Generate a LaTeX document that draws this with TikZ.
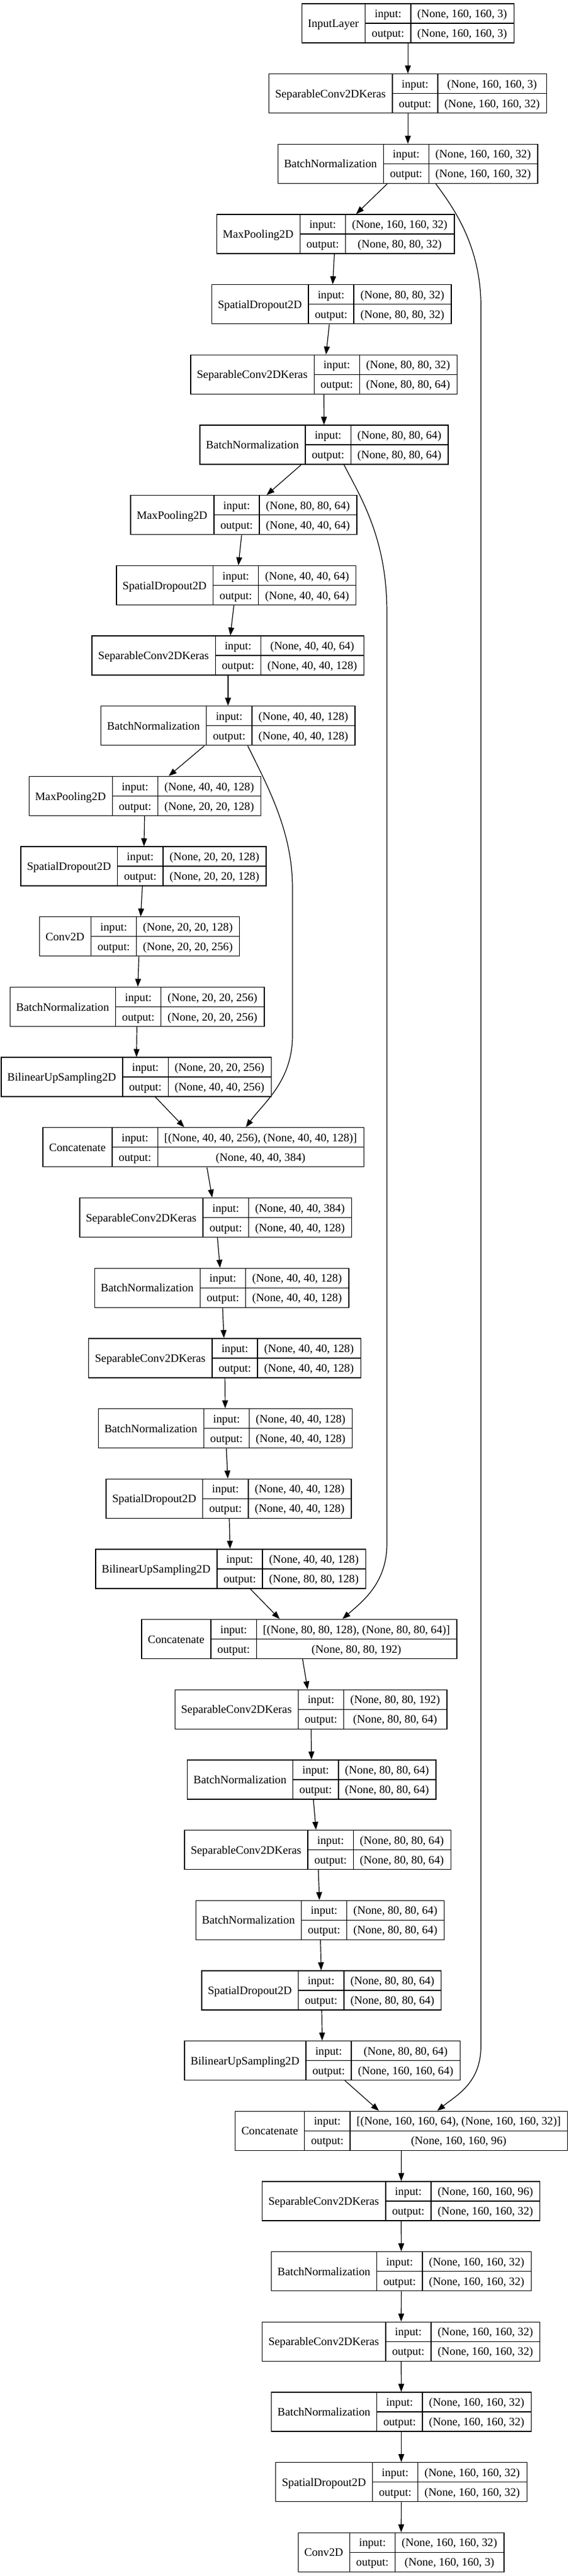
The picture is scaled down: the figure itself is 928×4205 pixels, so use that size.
\documentclass[tikz,border=0pt]{standalone}
\usepackage{fontspec}
\setmainfont{Liberation Serif}
\usetikzlibrary{calc,arrows.meta}
\font\lfprim="Liberation Serif" at 18.67pt
\newcommand\lfont{\lfprim}
\newlength\wn \newlength\wl \newlength\wv \newlength\wtmp \newlength\wtot
\tikzset{
  layerbox/.style={draw, line width=1.33pt, inner sep=0pt, minimum height=64pt},
  divline/.style={line width=1.33pt},
  celltext/.style={inner sep=0pt, font=\lfont, text height=16.5pt, text depth=3.3pt},
  edge/.style={line width=1.2pt, -{Triangle[length=13pt,width=9.5pt]}},
}
% #1 node name, #2 centre x, #3 index (row), #4 layer name, #5 input, #6 output
\newcommand\layer[6]{%
  \settowidth\wn{\lfont #4}\addtolength\wn{21.33pt}%
  \settowidth\wl{\lfont output:}\addtolength\wl{21.33pt}%
  \settowidth\wv{\lfont #5}\settowidth\wtmp{\lfont #6}%
  \ifdim\wtmp>\wv \setlength\wv{\wtmp}\fi
  \addtolength\wv{21.33pt}%
  \setlength\wtot{\wn}\addtolength\wtot{\wl}\addtolength\wtot{\wv}%
  \pgfmathsetmacro\cy{38+114.675*#3}%
  \node[layerbox, minimum width=\wtot] (#1) at (#2,\cy) {};
  \draw[divline] ($(#1.north west)+(\wn,-0.665pt)$) -- ($(#1.south west)+(\wn,0.665pt)$);
  \draw[divline] ($(#1.north west)+(\wn+\wl,-0.665pt)$) -- ($(#1.south west)+(\wn+\wl,0.665pt)$);
  \draw[divline] ($(#1.west)+(\wn,0pt)$) -- ($(#1.east)+(-0.665pt,0pt)$);
  \node[celltext] (#1n) at ($(#1.west)+(0.5*\wn,0pt)$) {#4};
  \node[celltext] (#1i) at ($(#1.west)+(\wn+0.5*\wl,16pt)$) {input:};
  \node[celltext] (#1o) at ($(#1.west)+(\wn+0.5*\wl,-16pt)$) {output:};
  \node[celltext] (#1iv) at ($(#1.west)+(\wn+\wl+0.5*\wv,16pt)$) {#5};
  \node[celltext] (#1ov) at ($(#1.west)+(\wn+\wl+0.5*\wv,-16pt)$) {#6};
}
\begin{document}
\begin{tikzpicture}[x=1pt,y=-1pt]
\fill[white] (0,0) rectangle (928,4205);
\useasboundingbox (0,0) rectangle (928,4205);
\layer{n0}{665.2}{0}{InputLayer}{(None, 160, 160, 3)}{(None, 160, 160, 3)}
\layer{n1}{665.2}{1}{SeparableConv2DKeras}{(None, 160, 160, 3)}{(None, 160, 160, 32)}
\layer{n2}{665.2}{2}{BatchNormalization}{(None, 160, 160, 32)}{(None, 160, 160, 32)}
\layer{n3}{547.2}{3}{MaxPooling2D}{(None, 160, 160, 32)}{(None, 80, 80, 32)}
\layer{n4}{540.7}{4}{SpatialDropout2D}{(None, 80, 80, 32)}{(None, 80, 80, 32)}
\layer{n5}{528.2}{5}{SeparableConv2DKeras}{(None, 80, 80, 32)}{(None, 80, 80, 64)}
\layer{n6}{528.5}{6}{BatchNormalization}{(None, 80, 80, 64)}{(None, 80, 80, 64)}
\layer{n7}{397.5}{7}{MaxPooling2D}{(None, 80, 80, 64)}{(None, 40, 40, 64)}
\layer{n8}{385.3}{8}{SpatialDropout2D}{(None, 40, 40, 64)}{(None, 40, 40, 64)}
\layer{n9}{371.9}{9}{SeparableConv2DKeras}{(None, 40, 40, 64)}{(None, 40, 40, 128)}
\layer{n10}{371.9}{10}{BatchNormalization}{(None, 40, 40, 128)}{(None, 40, 40, 128)}
\layer{n11}{236.5}{11}{MaxPooling2D}{(None, 40, 40, 128)}{(None, 20, 20, 128)}
\layer{n12}{234.1}{12}{SpatialDropout2D}{(None, 20, 20, 128)}{(None, 20, 20, 128)}
\layer{n13}{227.6}{13}{Conv2D}{(None, 20, 20, 128)}{(None, 20, 20, 256)}
\layer{n14}{223.7}{14}{BatchNormalization}{(None, 20, 20, 256)}{(None, 20, 20, 256)}
\layer{n15}{222.2}{15}{BilinearUpSampling2D}{(None, 20, 20, 256)}{(None, 40, 40, 256)}
\layer{n16}{331.8}{16}{Concatenate}{[(None, 40, 40, 256), (None, 40, 40, 128)]}{(None, 40, 40, 384)}
\layer{n17}{351.8}{17}{SeparableConv2DKeras}{(None, 40, 40, 384)}{(None, 40, 40, 128)}
\layer{n18}{361.6}{18}{BatchNormalization}{(None, 40, 40, 128)}{(None, 40, 40, 128)}
\layer{n19}{366.6}{19}{SeparableConv2DKeras}{(None, 40, 40, 128)}{(None, 40, 40, 128)}
\layer{n20}{367.5}{20}{BatchNormalization}{(None, 40, 40, 128)}{(None, 40, 40, 128)}
\layer{n21}{373.1}{21}{SpatialDropout2D}{(None, 40, 40, 128)}{(None, 40, 40, 128)}
\layer{n22}{376.1}{22}{BilinearUpSampling2D}{(None, 40, 40, 128)}{(None, 80, 80, 128)}
\layer{n23}{488.1}{23}{Concatenate}{[(None, 80, 80, 128), (None, 80, 80, 64)]}{(None, 80, 80, 192)}
\layer{n24}{507.1}{24}{SeparableConv2DKeras}{(None, 80, 80, 192)}{(None, 80, 80, 64)}
\layer{n25}{508.3}{25}{BatchNormalization}{(None, 80, 80, 64)}{(None, 80, 80, 64)}
\layer{n26}{518.1}{26}{SeparableConv2DKeras}{(None, 80, 80, 64)}{(None, 80, 80, 64)}
\layer{n27}{522.0}{27}{BatchNormalization}{(None, 80, 80, 64)}{(None, 80, 80, 64)}
\layer{n28}{524.4}{28}{SpatialDropout2D}{(None, 80, 80, 64)}{(None, 80, 80, 64)}
\layer{n29}{525.8}{29}{BilinearUpSampling2D}{(None, 80, 80, 64)}{(None, 160, 160, 64)}
\layer{n30}{654.8}{30}{Concatenate}{[(None, 160, 160, 64), (None, 160, 160, 32)]}{(None, 160, 160, 96)}
\layer{n31}{654.2}{31}{SeparableConv2DKeras}{(None, 160, 160, 96)}{(None, 160, 160, 32)}
\layer{n32}{654.5}{32}{BatchNormalization}{(None, 160, 160, 32)}{(None, 160, 160, 32)}
\layer{n33}{654.2}{33}{SeparableConv2DKeras}{(None, 160, 160, 32)}{(None, 160, 160, 32)}
\layer{n34}{654.5}{34}{BatchNormalization}{(None, 160, 160, 32)}{(None, 160, 160, 32)}
\layer{n35}{654.5}{35}{SpatialDropout2D}{(None, 160, 160, 32)}{(None, 160, 160, 32)}
\layer{n36}{654.2}{36}{Conv2D}{(None, 160, 160, 32)}{(None, 160, 160, 3)}
\foreach \i [evaluate=\i as \j using int(\i+1)] in {0,...,35}
  \draw[edge] (n\i) -- (n\j);
% skip connections
\draw[edge] ($(n2.south)+(45.5pt,0pt)$) .. controls (738,337) and (784.3,400) .. (784.3,500)
  -- (784.3,3340) .. controls (784.3,3400) and (745,3420) .. ($(n30.north)+(58.2pt,0pt)$);
\draw[edge] ($(n6.south)+(32.5pt,0pt)$) .. controls (590,815) and (631,880) .. (631,1000)
  -- (631,2520) .. controls (631,2585) and (590,2615) .. ($(n23.north)+(70.4pt,0pt)$);
\draw[edge] ($(n10.south)+(32.1pt,0pt)$) .. controls (440,1290) and (477,1360) .. (477,1450)
  -- (477,1690) .. controls (477,1765) and (430,1800) .. ($(n16.north)+(69.2pt,0pt)$);
\end{tikzpicture}
\end{document}
